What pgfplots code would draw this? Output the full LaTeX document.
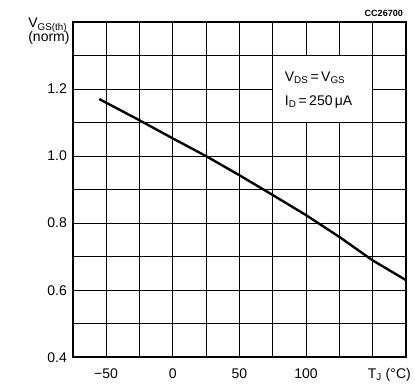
\documentclass[border=0pt]{standalone}
\usepackage{pgfplots}
\pgfplotsset{compat=1.18}
\usepackage{fontspec}
\setmainfont{Liberation Sans}
\begin{document}
\fontsize{14}{16}\selectfont
\begin{tikzpicture}
\begin{axis}[
  scale only axis, width=333pt, height=335pt,
  xmin=-75, xmax=175, ymin=0.4, ymax=1.4,
  xtick={-50,0,50,100}, xticklabels={−50,0,50,100},
  minor xtick={-75,-25,25,75,125,150,175},
  ytick={0.4,0.6,0.8,1.0,1.2},
  minor ytick={0.5,0.7,0.9,1.1,1.3},
  grid=both,
  grid style={black, line width=0.8pt},
  minor grid style={black, line width=0.8pt},
  major tick length=0pt, minor tick length=0pt,
  axis line style={line width=1.6pt},
  /pgf/number format/assume math mode=true,
  yticklabel style={/pgf/number format/fixed, /pgf/number format/fixed zerofill, /pgf/number format/precision=1, font=\fontsize{14}{16}\selectfont, xshift=-1pt},
  xticklabel style={anchor=base, yshift=-21pt, font=\fontsize{14}{16}\selectfont},
  clip=false,
]
\addplot[black, line width=2.4pt] coordinates {
  (-55,1.17) (-25,1.107) (0,1.053) (25,1.0) (50,0.943) (75,0.884)
  (100,0.824) (125,0.759) (150,0.689) (175,0.63)
};
\draw[black, line width=0.8pt, fill=white] (axis cs:75,1.1) rectangle (axis cs:150,1.3);
\node[anchor=west, inner sep=0pt] at (axis cs:84,1.233) {V\textsubscript{DS}\,=\,V\textsubscript{GS}};
\node[anchor=west, inner sep=0pt] at (axis cs:84,1.161) {I\textsubscript{D}\,=\,250\,μA};
\node[anchor=base, inner sep=0pt] at (axis cs:162.5,0.4) [yshift=-21pt] {T\textsubscript{J} (°C)};
\node[anchor=north east, align=left, inner sep=0pt] at (rel axis cs:0,1) [xshift=-3pt, yshift=4pt] {V\textsubscript{GS(th)}\\[-2pt](norm)};
\node[anchor=south east, inner sep=0pt, font=\fontsize{9}{10}\selectfont\bfseries] at (rel axis cs:1,1) [xshift=-3pt, yshift=5pt] {CC26700};
\path (rel axis cs:0,0) ++(-72.7pt,-24pt) coordinate (bl);
\path (rel axis cs:1,1) ++(9pt,22pt) coordinate (tr);
\end{axis}
\path (bl) rectangle (tr);
\end{tikzpicture}
\end{document}
